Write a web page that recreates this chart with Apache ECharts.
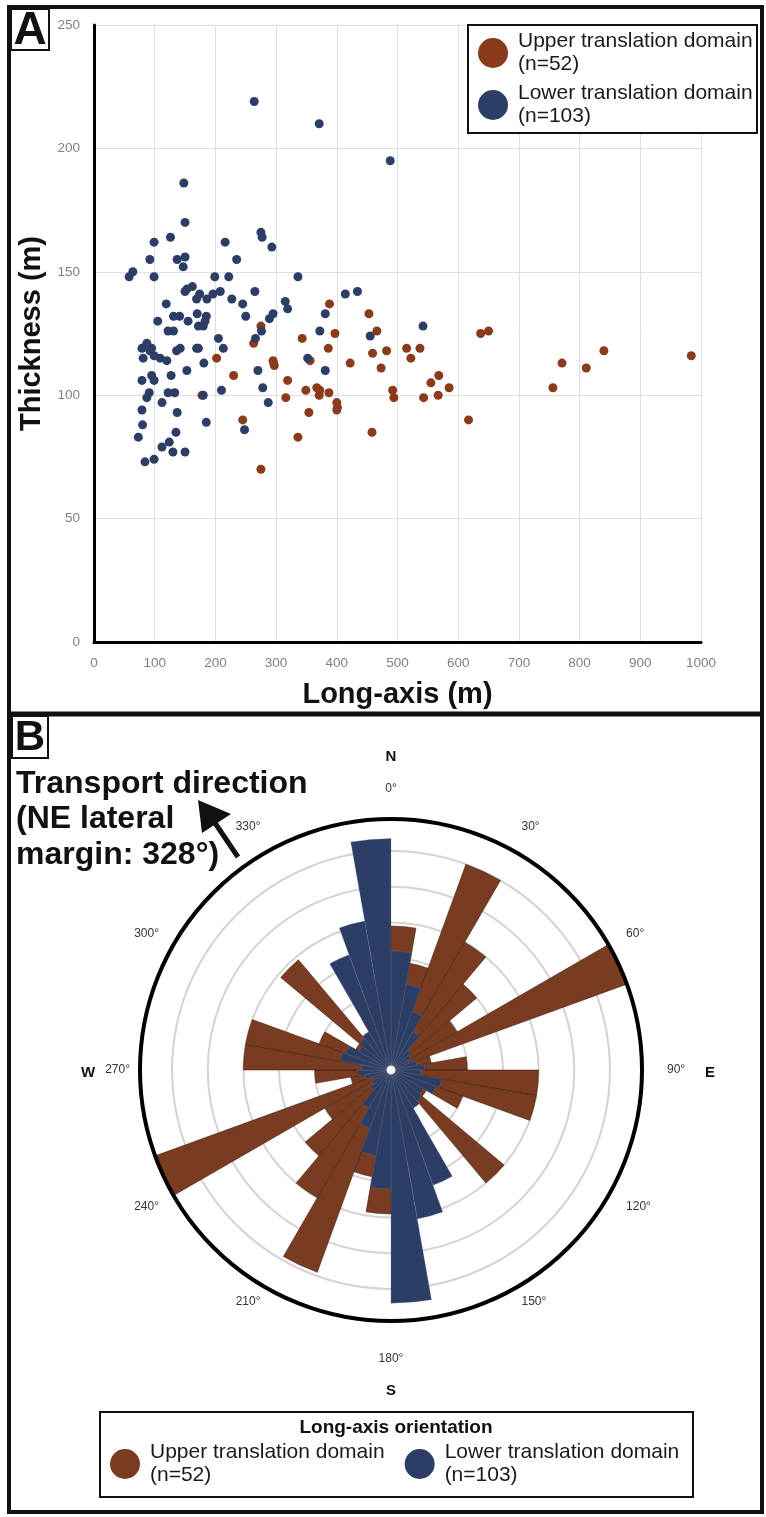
<!DOCTYPE html>
<html>
<head>
<meta charset="utf-8">
<script src="https://cdn.jsdelivr.net/npm/echarts@6/dist/echarts.min.js"></script>
<style>
html,body{margin:0;padding:0;background:#fff;}
#chart{width:766px;height:1517px;}
</style>
</head>
<body>
<div id="chart"></div>
<script>
// ---------- DATA ----------
const seriesNames = ['Upper translation domain', 'Lower translation domain'];
const seriesCounts = ['(n=52)', '(n=103)'];

// Panel A: [long-axis (m), thickness (m)]
const upperPoints = [
  [388,137],[275,128],[397,125],[343,123],[386,119],[263,121],[202,115],[295,114],[297,112],[230,108],
  [319,106],[349,102],[367,103],[371,100],[387,101],[316,99],[400,97],[400,94],[354,93],[245,90],
  [336,83],[275,70],[422,113],[356,114],[178,100],[453,133],[466,126],[459,117],[482,118],[473,111],
  [515,119],[537,119],[522,115],[492,102],[494,99],[458,85],[555,105],[568,108],[543,99],[567,100],
  [585,103],[617,90],[637,125],[650,126],[756,103],[771,113],[811,111],[840,118],[984,116],[372,102],
  [401,95],[296,113]
];
const lowerPoints = [
  [148,186],[150,170],[99,162],[126,164],[216,162],[275,166],[277,164],[293,160],[92,155],[137,155],
  [150,156],[147,152],[235,155],[58,148],[64,150],[99,148],[199,148],[222,148],[336,148],[150,142],
  [153,143],[162,144],[169,139],[174,141],[186,139],[196,141],[208,142],[227,139],[245,137],[265,142],
  [315,138],[319,135],[119,137],[131,132],[141,132],[170,133],[185,132],[183,130],[105,130],[155,130],
  [172,128],[180,128],[250,132],[289,131],[295,133],[122,126],[131,126],[381,133],[372,126],[414,141],
  [205,123],[266,123],[276,126],[213,119],[352,115],[381,110],[270,110],[278,103],[287,97],[248,86],
  [210,102],[181,113],[153,110],[169,119],[172,119],[136,118],[142,119],[127,108],[122,101],[133,101],
  [180,100],[185,89],[137,93],[112,97],[135,85],[124,81],[112,79],[130,77],[150,77],[84,73],
  [99,74],[73,83],[80,88],[79,94],[87,99],[91,101],[79,106],[95,108],[99,106],[81,115],
  [79,119],[87,121],[95,119],[92,118],[99,116],[109,115],[120,114],[434,142],[455,124],[542,128],
  [264,219],[371,210],[488,195]
];

// Panel B: 10-degree bins (start of bin), clockwise from north
const roseBins = ['0','10','20','30','40','50','60','70','80','90','100','110','120','130','140','150','160','170',
  '180','190','200','210','220','230','240','250','260','270','280','290','300','310','320','330','340','350'];
const upperRose = [3.9,2.9,6.0,4.0,3.0,2.0,7.0,1.0,2.0,4.0,4.0,2.0,1.0,4.0,0.7,1.5,2.0,2.5,
  3.9,2.9,5.9,4.0,3.0,2.0,7.0,1.0,2.0,4.0,4.0,2.0,1.0,3.9,0.7,1.5,2.0,2.5];
const lowerRose = [3.2,2.3,1.6,1.1,0.6,0.5,0.4,0.6,0.8,0.7,1.3,1.2,0.9,1.0,1.1,3.3,4.1,6.4,
  3.2,2.3,1.6,1.1,0.6,0.5,0.4,0.6,0.8,0.7,1.3,1.2,0.9,1.0,1.1,3.3,4.1,6.35];
const angleTickLabels = ['0','30','60','90','120','150','180','210','240','270','300','330'];
const compassLabels = ['N','E','S','W'];

// ---------- STYLE ----------
const brownDot = '#8a3b1b', blueDot = '#2d3e66';
const brownRose = '#7a3c21', blueRose = '#2c3e66';
const FONT = '"Liberation Sans", Arial, sans-serif';
const roseCenter = [391, 1070];
const roseR = 251;
// per-label padding [top, right, bottom, left] for the angle tick labels
const angleLabelPadding = {
  '0':[0,0,14,0], '30':[0,0,11,0], '60':[0,0,0,9], '90':[0,0,0,15], '120':[0,0,0,9],
  '180':[22,0,0,0], '240':[0,6,0,0], '300':[0,6,0,0], '330':[0,0,11,0]
};

const chart = echarts.init(document.getElementById('chart'), null, {renderer: 'canvas'});

const compassPos = [
  [roseCenter[0], roseCenter[1] - 313],
  [roseCenter[0] + 319, roseCenter[1] + 3],
  [roseCenter[0], roseCenter[1] + 321],
  [roseCenter[0] - 303, roseCenter[1] + 3]
];

const graphics = [
  {type:'rect', z:3, shape:{x:468, y:25, width:289, height:108}, style:{fill:'#fff', stroke:'#111', lineWidth:2}},
  {type:'rect', z:3, shape:{x:100, y:1412, width:593, height:85}, style:{fill:'#fff', stroke:'#111', lineWidth:2}},
  {type:'text', z:6, x:396, y:1428, style:{text:'Long-axis orientation', font:'bold 19px ' + FONT, fill:'#111', align:'center', verticalAlign:'middle'}},
  {type:'rect', z:50, shape:{x:9, y:7, width:753, height:1505}, style:{fill:'none', stroke:'#111', lineWidth:4}},
  {type:'line', z:50, shape:{x1:9, y1:714, x2:762, y2:714}, style:{stroke:'#111', lineWidth:5}},
  {type:'rect', z:51, shape:{x:11, y:9, width:38, height:41}, style:{fill:'#fff', stroke:'#111', lineWidth:2}},
  {type:'text', z:52, x:30, y:31, style:{text:'A', font:'bold 46px ' + FONT, fill:'#111', align:'center', verticalAlign:'middle'}},
  {type:'rect', z:51, shape:{x:12, y:716, width:36, height:42}, style:{fill:'#fff', stroke:'#111', lineWidth:2}},
  {type:'text', z:52, x:30, y:738, style:{text:'B', font:'bold 42px ' + FONT, fill:'#111', align:'center', verticalAlign:'middle'}},
  {type:'text', z:6, x:16, y:766, style:{text:'Transport direction\n(NE lateral\nmargin: 328°)', font:'bold 32px ' + FONT, lineHeight:35.5, fill:'#111', align:'left', verticalAlign:'top'}},
  {type:'line', z:6, shape:{x1:238, y1:857, x2:213, y2:820}, style:{stroke:'#111', lineWidth:5}},
  {type:'polygon', z:6, shape:{points:[[198,800],[231,814],[202,833]]}, style:{fill:'#111'}}
];
compassLabels.forEach(function (t, i) {
  graphics.push({type:'text', z:6, x:compassPos[i][0], y:compassPos[i][1],
    style:{text:t, font:'bold 15px ' + FONT, fill:'#111', align:'center', verticalAlign:'middle'}});
});

const legendText = {fontSize:21, lineHeight:23, color:'#1a1a1a', fontFamily:FONT, padding:[0,0,0,5]};
const legendFormatter = function (name) {
  return name + '\n' + seriesCounts[seriesNames.indexOf(name)];
};

const option = {
  animation: false,
  backgroundColor: '#fff',
  graphic: graphics,
  legend: [
    {
      orient:'vertical', left:478, top:30, padding:0, itemGap:6,
      icon:'circle', itemWidth:30, itemHeight:30, selectedMode:false, z:5,
      data:[{name:seriesNames[0], itemStyle:{color:brownDot, opacity:1}}, {name:seriesNames[1], itemStyle:{color:blueDot, opacity:1}}],
      formatter: legendFormatter, textStyle: legendText
    },
    {
      orient:'horizontal', left:110, top:1441, padding:0, itemGap:20,
      icon:'circle', itemWidth:30, itemHeight:30, selectedMode:false, z:5,
      data:[{name:seriesNames[0], itemStyle:{color:brownRose, opacity:1}}, {name:seriesNames[1], itemStyle:{color:blueRose, opacity:1}}],
      formatter: legendFormatter, textStyle: legendText
    }
  ],
  grid: {left:94, top:25, width:607, height:617, containLabel:false},
  xAxis: {
    type:'value', min:0, max:1000, interval:100,
    axisLine:{show:true, onZero:false, lineStyle:{color:'#000', width:3}},
    axisTick:{show:false},
    axisLabel:{color:'#808080', fontSize:13.5, margin:14, fontFamily:FONT, formatter: function (v) { return String(v); }},
    splitLine:{show:true, lineStyle:{color:'#dedede', width:1}},
    name:'Long-axis (m)', nameLocation:'middle', nameGap:38,
    nameTextStyle:{fontSize:29, fontWeight:'bold', color:'#111', fontFamily:FONT}
  },
  yAxis: {
    type:'value', min:0, max:250, interval:50,
    axisLine:{show:true, onZero:false, lineStyle:{color:'#000', width:3}},
    axisTick:{show:false},
    axisLabel:{color:'#808080', fontSize:13.5, margin:14, fontFamily:FONT, formatter: function (v) { return String(v); }},
    splitLine:{show:true, lineStyle:{color:'#dedede', width:1}},
    name:'Thickness (m)', nameLocation:'middle', nameGap:37, nameRotate:90,
    nameTextStyle:{fontSize:29, fontWeight:'bold', color:'#111', fontFamily:FONT}
  },
  polar: [
    {center: roseCenter, radius: [5, roseR]},
    {center: roseCenter, radius: roseR}
  ],
  angleAxis: [
    {
      polarIndex:0, type:'category', data: roseBins, startAngle:90, clockwise:true, boundaryGap:true,
      axisLine:{show:false}, axisTick:{show:false}, axisLabel:{show:false}, splitLine:{show:false}
    },
    {
      // 30-degree label bands, shifted half a band so each label sits on its bearing
      polarIndex:1, type:'category', boundaryGap:true, startAngle:105, clockwise:true, z:10,
      data: angleTickLabels.map(function (v) {
        return {value: v, textStyle: {padding: angleLabelPadding[v] || 0}};
      }),
      axisLine:{show:true, lineStyle:{color:'#000', width:4}},
      axisTick:{show:false},
      axisLabel:{formatter:'{value}°', margin:10, color:'#333', fontSize:12, fontFamily:FONT, interval:0},
      splitLine:{show:false}
    }
  ],
  radiusAxis: [
    {
      polarIndex:0, type:'value', min:0, max:6.9, interval:1,
      axisLine:{show:false}, axisTick:{show:false}, axisLabel:{show:false},
      splitLine:{show:true, lineStyle:{color:'#d9d0d0', width:2}}
    },
    {polarIndex:1, type:'value', min:0, max:1, show:false}
  ],
  series: [
    {
      name: seriesNames[0], type:'scatter', data: upperPoints, symbolSize:9,
      itemStyle:{color:brownDot, opacity:1}, z:2
    },
    {
      name: seriesNames[1], type:'scatter', data: lowerPoints, symbolSize:9,
      itemStyle:{color:blueDot, opacity:1}, z:2
    },
    {
      name: seriesNames[0], type:'bar', coordinateSystem:'polar', polarIndex:0,
      data: upperRose, barGap:'-100%', barCategoryGap:'0%',
      itemStyle:{color:brownRose, borderColor:'rgba(35,20,15,0.75)', borderWidth:0.6}, z:2
    },
    {
      name: seriesNames[1], type:'bar', coordinateSystem:'polar', polarIndex:0,
      data: lowerRose, barGap:'-100%', barCategoryGap:'0%',
      itemStyle:{color:blueRose, borderColor:'rgba(110,120,150,0.6)', borderWidth:0.5}, z:3
    }
  ]
};
chart.setOption(option);
</script>
</body>
</html>
